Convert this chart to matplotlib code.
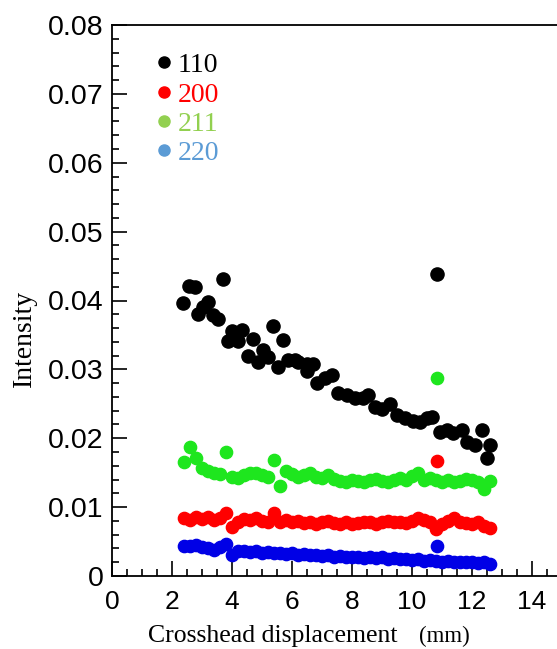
import matplotlib
matplotlib.use("Agg")
import matplotlib.pyplot as plt
from matplotlib.lines import Line2D
from matplotlib.ticker import MultipleLocator

# (110) peak: displacement (mm) and intensity
x_110 = [2.36, 2.58, 2.77, 2.88, 3.04, 3.21, 3.38, 3.54, 3.69, 3.88, 3.99, 4.21,
         4.32, 4.54, 4.69, 4.88, 5.04, 5.21, 5.38, 5.54, 5.71, 5.88, 6.10, 6.21,
         6.49, 6.49, 6.71, 6.82, 7.10, 7.32, 7.54, 7.82, 8.10, 8.38, 8.54, 8.77,
         8.99, 9.27, 9.49, 9.77, 10.04, 10.27, 10.49, 10.66, 10.82, 10.93, 11.16,
         11.38, 11.66, 11.82, 12.10, 12.32, 12.49, 12.60]
y_110 = [0.0397, 0.0421, 0.0420, 0.0380, 0.0391, 0.0398, 0.0379, 0.0373, 0.0431,
         0.0341, 0.0356, 0.0341, 0.0357, 0.0319, 0.0344, 0.0311, 0.0328, 0.0318,
         0.0363, 0.0304, 0.0343, 0.0313, 0.0313, 0.0310, 0.0308, 0.0297, 0.0308,
         0.0280, 0.0287, 0.0292, 0.0265, 0.0263, 0.0258, 0.0258, 0.0263, 0.0246,
         0.0243, 0.0250, 0.0234, 0.0230, 0.0225, 0.0224, 0.0229, 0.0231, 0.0438,
         0.0209, 0.0212, 0.0207, 0.0212, 0.0195, 0.0190, 0.0212, 0.0171, 0.0190]

# other peaks share the same displacement steps
x_band = [2.4, 2.6, 2.8, 3.0, 3.2, 3.4, 3.6, 3.8, 4.0, 4.2, 4.4, 4.6, 4.8, 5.0,
          5.2, 5.4, 5.6, 5.8, 6.0, 6.2, 6.4, 6.6, 6.8, 7.0, 7.2, 7.4, 7.6, 7.8,
          8.0, 8.2, 8.4, 8.6, 8.8, 9.0, 9.2, 9.4, 9.6, 9.8, 10.0, 10.2, 10.4,
          10.6, 10.8, 10.82, 11.0, 11.2, 11.4, 11.6, 11.8, 12.0, 12.2, 12.4, 12.6]
y_211 = [0.0165, 0.0188, 0.0172, 0.0157, 0.0153, 0.0150, 0.0148, 0.0180, 0.0144,
         0.0143, 0.0146, 0.0149, 0.0150, 0.0147, 0.0144, 0.0168, 0.0130, 0.0152,
         0.0148, 0.0144, 0.0147, 0.0149, 0.0144, 0.0143, 0.0147, 0.0141, 0.0138,
         0.0137, 0.0140, 0.0138, 0.0137, 0.0139, 0.0141, 0.0138, 0.0137, 0.0140,
         0.0142, 0.0139, 0.0145, 0.0149, 0.0140, 0.0142, 0.0139, 0.0288, 0.0137,
         0.0140, 0.0136, 0.0138, 0.0141, 0.0139, 0.0137, 0.0126, 0.0138]
y_200 = [0.0084, 0.0082, 0.0085, 0.0083, 0.0086, 0.0081, 0.0084, 0.0091, 0.0071,
         0.0079, 0.0083, 0.0081, 0.0084, 0.0080, 0.0078, 0.0091, 0.0079, 0.0081,
         0.0078, 0.0080, 0.0077, 0.0079, 0.0076, 0.0078, 0.0080, 0.0077, 0.0076,
         0.0078, 0.0076, 0.0077, 0.0079, 0.0078, 0.0076, 0.0078, 0.0080, 0.0078,
         0.0079, 0.0077, 0.0080, 0.0084, 0.0082, 0.0079, 0.0068, 0.0167, 0.0076,
         0.0080, 0.0084, 0.0079, 0.0077, 0.0075, 0.0078, 0.0072, 0.0070]
y_220 = [0.0044, 0.0043, 0.0045, 0.0042, 0.0040, 0.0038, 0.0042, 0.0047, 0.0030,
         0.0036, 0.0037, 0.0035, 0.0036, 0.0034, 0.0035, 0.0033, 0.0034, 0.0032,
         0.0033, 0.0031, 0.0032, 0.0030, 0.0031, 0.0029, 0.0030, 0.0028, 0.0029,
         0.0027, 0.0028, 0.0027, 0.0026, 0.0027, 0.0026, 0.0027, 0.0025, 0.0026,
         0.0024, 0.0025, 0.0023, 0.0024, 0.0022, 0.0023, 0.0022, 0.0044, 0.0021,
         0.0022, 0.0020, 0.0021, 0.0020, 0.0021, 0.0019, 0.0020, 0.0018]

labels = ["110", "200", "211", "220"]
legend_colors = ["black", "#ff0000", "#92d050", "#5b9bd5"]

fig = plt.figure(figsize=(5.57, 6.49), dpi=100)
ax = fig.add_axes([112 / 557, 73 / 649, 450 / 557, 551 / 649])

ax.scatter(x_110, y_110, s=90, color="black", zorder=3)
ax.scatter(x_band, y_211, s=78, color="#1ee61e", zorder=2)
ax.scatter(x_band, y_200, s=78, color="#ff0000", zorder=2)
ax.scatter(x_band, y_220, s=78, color="#0000e6", zorder=2)

ax.set_xlim(0, 15)
ax.set_ylim(0, 0.08)
ax.xaxis.set_major_locator(MultipleLocator(2))
ax.xaxis.set_minor_locator(MultipleLocator(0.5))
ax.yaxis.set_major_locator(MultipleLocator(0.01))
ax.yaxis.set_minor_locator(MultipleLocator(0.002))
ax.tick_params(which="both", direction="in", width=1.2)
ax.tick_params(which="major", length=11)
ax.tick_params(which="minor", length=5)
ax.tick_params(axis="x", pad=10)
ax.tick_params(axis="y", pad=6)
ax.set_yticks([0, 0.01, 0.02, 0.03, 0.04, 0.05, 0.06, 0.07, 0.08])
ax.set_yticklabels(["0", "0.01", "0.02", "0.03", "0.04", "0.05", "0.06", "0.07", "0.08"])
for lab in ax.get_xticklabels():
    lab.set_fontfamily("Liberation Sans")
    lab.set_fontsize(19)
for lab in ax.get_yticklabels():
    lab.set_fontfamily("Liberation Sans")
    lab.set_fontsize(20.5)
for sp in ax.spines.values():
    sp.set_linewidth(1.3)

handles = [Line2D([], [], marker="o", linestyle="", color=c, markersize=8) for c in legend_colors]
ax.legend(handles, labels, loc="upper left", bbox_to_anchor=(0.022, 0.995), frameon=False,
          labelcolor=legend_colors, handletextpad=-0.1, handlelength=1.2, labelspacing=0.14,
          prop={"family": "Liberation Serif", "size": 20})

fig.text(148 / 557, 7 / 649, "Crosshead displacement", family="Liberation Serif", fontsize=18.5,
         ha="left", va="baseline")
fig.text(419 / 557, 7 / 649, "(mm)", family="Liberation Serif", fontsize=16.5,
         ha="left", va="baseline")
fig.text(24 / 557, 1 - 338 / 649, "Intensity", family="Liberation Serif", fontsize=20,
         rotation=90, ha="center", va="center")

fig.savefig("out.png", dpi=100)
